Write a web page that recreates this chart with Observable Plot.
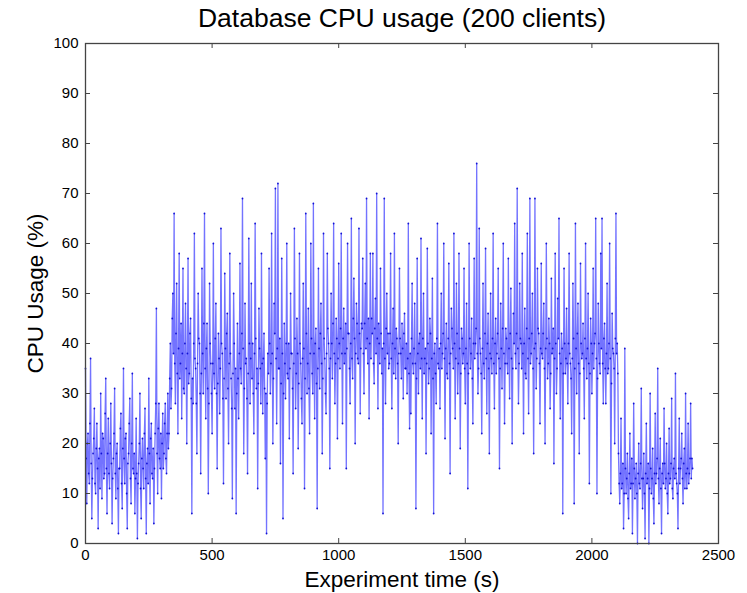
<!DOCTYPE html>
<html><head><meta charset="utf-8">
<script src="https://cdn.jsdelivr.net/npm/d3@7"></script>
<script src="https://cdn.jsdelivr.net/npm/@observablehq/plot@0.6"></script>
<style>body{margin:0;background:#fff} svg{display:block}</style>
</head><body><div id="chart"></div>
<script>
const title = "Database CPU usage (200 clients)";
const xLabel = "Experiment time (s)";
const yLabel = "CPU Usage (%)";
const xTicks = [0, 500, 1000, 1500, 2000, 2500];
const yTicks = [0, 10, 20, 30, 40, 50, 60, 70, 80, 90, 100];
const sampleInterval = 2.5; // seconds between samples, first sample at t = 0

// CPU usage (%) samples; 40 samples (100 s) per row
const cpu = [
  35,17, 8,20, 22,14, 12,24, 37,16, 5,13, 18,21, 27,12, 10,19, 24,15, 3,17, 19,11, 30,18, 9,22, 21,13, 14,26, 33,15, 6,18, 25,14, 11,20,
  28,16, 4,13, 17,22, 31,14, 9,18, 20,11, 2,15, 15,23, 26,12, 7,19, 35,17, 12,21, 22,10, 3,16, 18,24, 29,13, 8,20, 34,15, 14,18, 6,13,
  25,14, 1,12, 16,20, 30,11, 5,17, 21,15, 11,22, 27,13, 2,16, 19,12, 33,18, 8,21, 24,14, 13,19, 4,15, 22,28, 47,18, 10,23, 28,17, 15,22,
  9,20, 26,15, 18,24, 28,17, 14,22, 30,19, 22,33, 40,27, 31,45, 50,38, 66,36, 28,42, 52,34, 22,39, 58,33, 36,44, 25,38, 55,31, 30,40, 48,35,
  20,38, 57,32, 34,42, 45,29, 6,33, 28,40, 62,37, 35,28, 18,36, 50,41, 40,30, 14,34, 55,38, 30,44, 66,35, 25,39, 44,31, 10,28, 52,40, 36,30,
  22,36, 60,34, 31,41, 48,30, 15,32, 42,37, 26,35, 63,40, 38,29, 12,33, 54,39, 29,42, 46,31, 20,36, 58,38, 33,27, 9,34, 50,40, 27,35, 6,30,
  44,33, 25,38, 56,35, 32,42, 69,39, 18,31, 48,36, 37,29, 14,34, 61,40, 28,37, 52,33, 40,30, 22,38, 64,41, 31,35, 11,32, 47,39, 35,28, 58,36,
  26,37, 42,31, 17,30, 2,28, 38,34, 55,40, 30,36, 62,38, 20,33, 48,42, 71,37, 24,39, 72,35, 35,41, 16,32, 57,38, 5,30, 44,36, 29,40, 60,34,
  33,40, 21,35, 50,38, 38,31, 14,36, 63,41, 27,34, 45,38, 19,32, 58,40, 36,29, 24,37, 52,39, 11,33, 66,42, 30,36, 47,31, 22,38, 60,41, 34,30,
  68,38, 25,40, 43,32, 7,35, 55,39, 31,42, 48,36, 18,33, 62,41, 37,30, 26,38, 58,43, 40,35, 15,37, 50,40, 33,44, 64,38, 28,36, 45,41, 21,37,
  56,40, 35,43, 62,38, 24,41, 47,36, 38,44, 15,39, 60,42, 42,35, 28,40, 65,37, 33,45, 53,41, 20,38, 48,44, 37,36, 63,42, 26,39, 44,43, 57,38,
  30,44, 52,39, 69,41, 36,45, 25,40, 58,37, 45,42, 58,36, 32,43, 49,38, 70,41, 27,44, 40,36, 55,42, 34,39, 6,40, 69,37, 28,43, 50,38, 42,35,
  36,42, 58,37, 27,40, 47,34, 62,39, 33,43, 41,36, 20,38, 55,41, 38,33, 44,39, 29,42, 46,35, 35,40, 30,37, 64,34, 23,38, 26,41, 52,36, 34,39,
  48,36, 7,33, 57,38, 30,40, 42,35, 61,37, 25,41, 50,34, 37,39, 18,36, 59,40, 32,35, 45,42, 22,37, 53,33, 6,38, 40,34, 28,41, 64,36, 35,39,
  27,40, 50,35, 38,42, 60,37, 21,39, 44,34, 33,41, 56,36, 14,38, 47,43, 39,35, 62,40, 25,37, 52,42, 30,36, 58,39, 19,34, 43,41, 36,38, 55,35,
  28,39, 48,36, 11,34, 60,41, 35,38, 45,33, 24,40, 57,37, 40,43, 76,38, 30,35, 63,41, 38,34, 22,39, 52,36, 33,42, 59,37, 26,40, 46,35, 18,38,
  50,37, 34,41, 62,36, 27,40, 45,34, 38,42, 55,37, 15,35, 48,39, 31,43, 60,38, 24,36, 43,41, 36,34, 57,39, 29,42, 51,37, 20,35, 46,40, 64,38,
  35,42, 71,39, 28,36, 52,41, 40,35, 58,38, 22,40, 47,34, 33,43, 62,37, 26,41, 69,36, 38,42, 50,35, 18,39, 69,40, 31,37, 55,43, 42,36, 24,39,
  56,38, 37,42, 48,35, 20,39, 60,41, 33,36, 45,40, 27,34, 53,38, 39,43, 16,37, 58,40, 30,35, 49,41, 65,38, 25,36, 42,39, 6,34, 55,40, 34,37,
  47,36, 28,40, 58,38, 36,33, 22,37, 52,41, 8,35, 64,39, 30,42, 48,36, 18,34, 56,40, 37,38, 44,35, 25,41, 60,37, 33,39, 50,36, 12,34, 45,40,
  30,38, 55,35, 40,42, 65,37, 10,33, 48,40, 36,34, 58,39, 65,36, 28,41, 44,35, 28,38, 52,34, 35,40, 60,37, 10,32, 46,39, 38,35, 20,41, 66,38,
  40,34, 18,12, 8,14, 25,11, 12,16, 3,10, 39,15, 10,13, 18,9, 5,14, 22,11, 12,17, 2,12, 28,15, 9,13, 16,10, 0,14, 20,12, 11,16, 31,13,
  7,13, 18,10, 1,14, 24,12, 13,16, 0,11, 30,15, 10,13, 19,9, 4,14, 26,12, 14,17, 35,13, 8,15, 21,11, 2,14, 16,12, 27,16, 11,13, 20,10,
  6,14, 23,12, 13,16, 29,11, 9,15, 17,13, 34,14, 12,10, 3,15, 25,12, 15,17, 22,13, 8,16, 19,11, 30,14, 11,15, 24,12, 14,17, 28,13, 17,15
];

const data = cpu.map((v, i) => ({t: i * sampleInterval, cpu: v}));

const W = 747, H = 593;
const mL = 85, mR = 29, mT = 43, mB = 50;
const innerW = W - mL - mR, innerH = H - mT - mB;
const tickLen = 5;
const axisColor = "#444";
const font = "'Liberation Sans', Arial, Helvetica, sans-serif";

const chart = Plot.plot({
  width: W, height: H,
  marginLeft: mL, marginRight: mR, marginTop: mT, marginBottom: mB,
  style: {fontFamily: font, fontSize: "15px", color: "#000", background: "#fff"},
  x: {domain: [0, 2500]},
  y: {domain: [0, 100]},
  marks: [
    Plot.lineY(data, {x: "t", y: "cpu", stroke: "#0000ff", strokeOpacity: 0.55, strokeWidth: 1.3}),
    Plot.dot(data, {x: "t", y: "cpu", r: 0.9, fill: "#0000cc", fillOpacity: 0.85, stroke: null}),
    Plot.axisX(xTicks, {anchor: "bottom", tickSize: 0, tickPadding: 6, label: null, fontSize: 15, tickFormat: d => String(d)}),
    Plot.axisY(yTicks, {anchor: "left", tickSize: 0, tickPadding: 7, label: null, fontSize: 15, tickFormat: d => String(d)}),
    Plot.tickX(xTicks, {x: d => d, insetTop: innerH - tickLen, stroke: axisColor}),
    Plot.tickX(xTicks, {x: d => d, insetBottom: innerH - tickLen, stroke: axisColor}),
    Plot.tickY(yTicks, {y: d => d, insetRight: innerW - tickLen, stroke: axisColor}),
    Plot.tickY(yTicks, {y: d => d, insetLeft: innerW - tickLen, stroke: axisColor}),
    Plot.frame({stroke: axisColor, strokeWidth: 1.3}),
    Plot.text([title], {text: d => d, frameAnchor: "top", textAnchor: "middle", lineAnchor: "middle", dy: -25, fontSize: 26.5, fill: "#000"}),
    Plot.text([xLabel], {text: d => d, frameAnchor: "bottom", textAnchor: "middle", lineAnchor: "middle", dy: 36, fontSize: 22.5, fill: "#000"}),
    Plot.text([yLabel], {text: d => d, frameAnchor: "left", textAnchor: "middle", lineAnchor: "middle", dx: -50, rotate: -90, fontSize: 22.5, fill: "#000"})
  ]
});
document.getElementById("chart").appendChild(chart);
</script>
</body></html>
